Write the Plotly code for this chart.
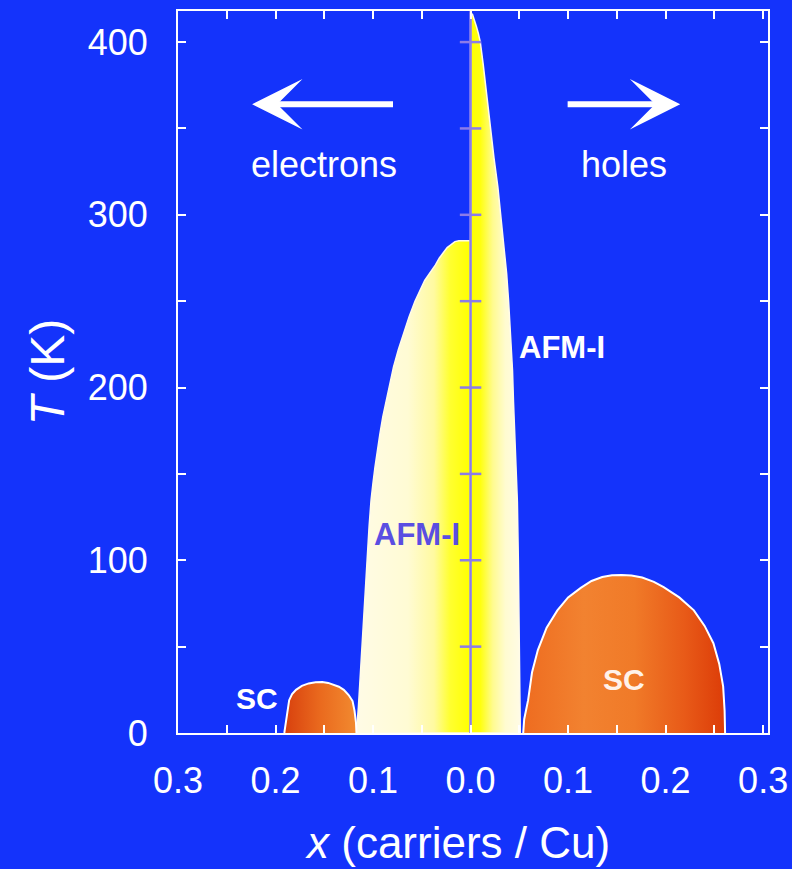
import plotly.graph_objects as go

# ---------------- data ----------------
# x axis: negative = electron doping, positive = hole doping (carriers / Cu)
x_tick_vals = [-0.3, -0.25, -0.2, -0.15, -0.1, -0.05, 0.0, 0.05, 0.1, 0.15, 0.2, 0.25, 0.3]
x_tick_text = ["0.3", "", "0.2", "", "0.1", "", "0.0", "", "0.1", "", "0.2", "", "0.3"]
y_tick_vals = [0, 50, 100, 150, 200, 250, 300, 350, 400]
y_tick_text = ["0", "", "100", "", "200", "", "300", "", "400"]

# hole-doped antiferromagnetic insulator region (boundary T_N(x))
afm_hole_x = [0.0, 0.0, 0.002, 0.004, 0.006, 0.008, 0.010, 0.013, 0.016, 0.020, 0.024, 0.028,
              0.031, 0.034, 0.037, 0.039, 0.041, 0.043, 0.044, 0.046, 0.048, 0.049, 0.050,
              0.051, 0.051, 0.0]
afm_hole_T = [0, 417, 416, 413, 409, 405, 400, 387, 372, 351, 333, 316,
              300, 285, 266, 250, 230, 210, 192, 165, 134, 100, 60,
              30, 0, 0]

# electron-doped antiferromagnetic insulator region
afm_elec_x = [0.0, 0.0, -0.006, -0.012, -0.016, -0.020, -0.024, -0.028, -0.032, -0.036,
              -0.041, -0.047, -0.052, -0.057, -0.063, -0.069, -0.074, -0.079, -0.083,
              -0.087, -0.090, -0.093, -0.096, -0.098, -0.100, -0.102, -0.104, -0.106,
              -0.108, -0.110, -0.113, -0.115, -0.117, 0.0]
afm_elec_T = [0, 285, 285, 285, 284.5, 283, 281, 278, 275, 271,
              267, 262, 256, 250, 241, 231, 222, 212, 202,
              192, 183, 173, 163, 154, 145, 135, 120, 100,
              80, 60, 35, 15, 0, 0]

# superconducting domes
sc_elec_x = [-0.191, -0.190, -0.189, -0.186, -0.183, -0.179, -0.173, -0.166, -0.159, -0.152,
             -0.146, -0.140, -0.135, -0.130, -0.125, -0.121, -0.119, -0.1175, -0.117]
sc_elec_T = [0, 4, 7.5, 19, 22.5, 25, 27.3, 28.7, 29.4, 29.5,
             29, 28, 26.8, 25, 22, 18.5, 13, 6, 0]

sc_hole_x = [0.054, 0.055, 0.059, 0.063, 0.069, 0.078, 0.089, 0.100, 0.113, 0.124, 0.135,
             0.145, 0.155, 0.165, 0.176, 0.188, 0.198, 0.214, 0.229, 0.240, 0.249, 0.255,
             0.259, 0.2605, 0.261]
sc_hole_T = [0, 8, 19, 35, 48, 61, 71, 78.5, 84, 88, 90.3,
             91.3, 91.5, 91.2, 90, 87.5, 84.5, 78.5, 71, 62, 52, 40,
             27, 13, 0]

# ---------------- styling ----------------
BG = "#1433fb"
FONT = "Liberation Sans, Arial, Helvetica, sans-serif"
x_range = [-0.3, 0.305]
y_range = [0, 418]

fig = go.Figure()

# AFM-I electron side (cream at the edge -> yellow at x=0)
fig.add_trace(go.Scatter(
    x=afm_elec_x, y=afm_elec_T, mode="lines", fill="toself",
    line=dict(color="#fffbe8", width=1.5),
    fillgradient=dict(type="horizontal", start=-0.117, stop=0.0,
                      colorscale=[[0, "#fffbe6"], [0.45, "#fffbd4"], [0.68, "#fffaa0"],
                                  [0.82, "#ffff30"], [1, "#ffff00"]]),
    hoverinfo="skip", showlegend=False))

# AFM-I hole side (yellow at x=0 -> cream at the edge)
fig.add_trace(go.Scatter(
    x=afm_hole_x, y=afm_hole_T, mode="lines", fill="toself",
    line=dict(color="#fffbe8", width=1.5),
    fillgradient=dict(type="horizontal", start=0.0, stop=0.051,
                      colorscale=[[0, "#ffff00"], [0.2, "#ffff10"], [0.45, "#fffb90"],
                                  [0.7, "#fffbd0"], [1, "#fffbe6"]]),
    hoverinfo="skip", showlegend=False))

# SC domes
fig.add_trace(go.Scatter(
    x=sc_elec_x, y=sc_elec_T, mode="lines", fill="toself",
    line=dict(color="white", width=2),
    fillgradient=dict(type="horizontal", start=-0.191, stop=-0.117,
                      colorscale=[[0, "#d8400e"], [0.5, "#ea6a1e"], [1, "#f28a30"]]),
    hoverinfo="skip", showlegend=False))

fig.add_trace(go.Scatter(
    x=sc_hole_x, y=sc_hole_T, mode="lines", fill="toself",
    line=dict(color="white", width=2),
    fillgradient=dict(type="horizontal", start=0.054, stop=0.261,
                      colorscale=[[0, "#ee6c20"], [0.3, "#f28230"], [0.55, "#f07a28"],
                                  [0.8, "#e85a18"], [1, "#dc3c08"]]),
    hoverinfo="skip", showlegend=False))

# central x = 0 line with cross ticks every 50 K
fig.add_trace(go.Scatter(
    x=[0, 0], y=[0, y_range[1]], mode="lines",
    line=dict(color="#8c7ce8", width=2.5), hoverinfo="skip", showlegend=False))
cx, cy = [], []
for t in y_tick_vals[1:]:
    cx += [-0.011, 0.011, None]
    cy += [t, t, None]
fig.add_trace(go.Scatter(
    x=cx, y=cy, mode="lines", line=dict(color="#8c7ce8", width=2.5),
    hoverinfo="skip", showlegend=False))

annotations = [
    # arrows
    dict(x=-0.224, y=364, ax=-0.078, ay=364, xref="x", yref="y", axref="x", ayref="y",
         text="", showarrow=True, arrowhead=3, arrowsize=1.4, arrowwidth=6, arrowcolor="white"),
    dict(x=0.215, y=364, ax=0.098, ay=364, xref="x", yref="y", axref="x", ayref="y",
         text="", showarrow=True, arrowhead=3, arrowsize=1.4, arrowwidth=6, arrowcolor="white"),
    dict(x=-0.150, y=329, text="electrons", showarrow=False,
         font=dict(family=FONT, size=36, color="white")),
    dict(x=0.157, y=329, text="holes", showarrow=False,
         font=dict(family=FONT, size=36, color="white")),
    dict(x=-0.0545, y=115, text="<b>AFM-I</b>", showarrow=False,
         font=dict(family=FONT, size=31, color="#5a4ee2")),
    dict(x=0.094, y=223, text="<b>AFM-I</b>", showarrow=False,
         font=dict(family=FONT, size=31, color="white")),
    dict(x=-0.2195, y=20, text="<b>SC</b>", showarrow=False,
         font=dict(family=FONT, size=30, color="white")),
    dict(x=0.157, y=31, text="<b>SC</b>", showarrow=False,
         font=dict(family=FONT, size=30, color="#fff2ea")),
    # x-axis title
    dict(x=0.473, y=-0.151, xref="paper", yref="paper", xanchor="center", yanchor="middle",
         text="<i>x</i> (carriers / Cu)", showarrow=False,
         font=dict(family=FONT, size=44, color="white")),
]

axis_common = dict(
    showgrid=False, zeroline=False, showline=True, linecolor="white", linewidth=2,
    mirror="ticks", ticks="inside", ticklen=8, tickwidth=2, tickcolor="white",
    tickfont=dict(family=FONT, size=36, color="white"), tickmode="array",
    ticklabeloverflow="allow",
)

fig.update_layout(
    width=792, height=869,
    margin=dict(l=178, r=24, t=11, b=136, autoexpand=False),
    paper_bgcolor=BG, plot_bgcolor=BG,
    annotations=annotations,
    xaxis=dict(range=x_range, tickvals=x_tick_vals, ticktext=x_tick_text,
               ticklabelstandoff=15, **axis_common),
    yaxis=dict(range=y_range, tickvals=y_tick_vals, ticktext=y_tick_text,
               ticklabelstandoff=21,
               title=dict(text="<i>T</i> (K)", standoff=8,
                          font=dict(family=FONT, size=48, color="white")),
               **axis_common),
)

fig.write_html(
    "out.html",
    config={"displayModeBar": False},
    post_script="document.body.style.margin='0';document.body.style.background='#1433fb';",
)
